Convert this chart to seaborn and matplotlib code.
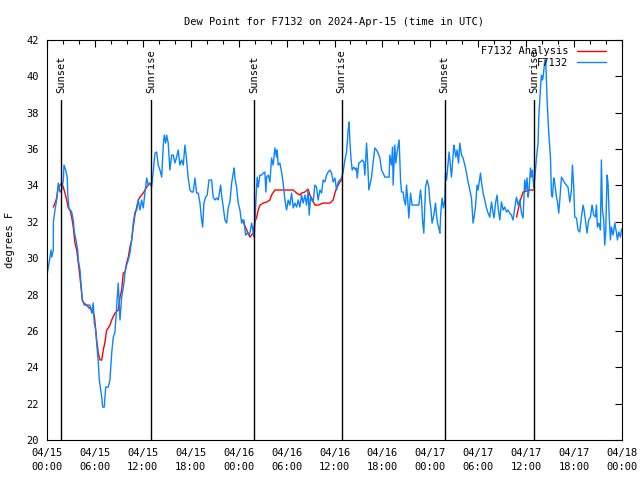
import numpy as np
import pandas as pd
import matplotlib
matplotlib.use("Agg")
import matplotlib.pyplot as plt
import matplotlib.dates as mdates
from matplotlib.lines import Line2D
import seaborn as sns

# datos (horas desde 2024-04-15 00:00 UTC, grados F)
blue_hours = [0.0, 0.38, 0.5, 0.59, 0.79, 0.8, 1.0, 1.21, 1.41, 1.63, 1.84, 2.04, 2.13, 2.34, 2.54, 2.59,
              2.75, 3.09, 3.29, 3.42, 3.63, 3.84, 3.92, 4.13, 4.26, 4.42, 4.67, 4.97, 5.38, 5.59, 5.79,
              5.92, 6.1, 6.22, 6.42, 6.55, 6.85, 6.97, 7.17, 7.35, 7.67, 7.88, 8.1, 8.3, 8.51, 8.72,
              8.92, 9.14, 9.35, 9.64, 9.76, 9.97, 10.18, 10.39, 10.6, 10.8, 11.01, 11.23, 11.43, 11.64,
              11.85, 12.05, 12.27, 12.48, 12.68, 12.89, 13.1, 13.3, 13.43, 13.52, 13.73, 13.93, 14.14,
              14.36, 14.56, 14.68, 14.86, 14.98, 15.18, 15.39, 15.61, 15.81, 16.02, 16.23, 16.43, 16.65,
              16.86, 17.06, 17.27, 17.48, 17.68, 17.9, 18.11, 18.31, 18.52, 18.74, 18.94, 19.15, 19.36,
              19.49, 19.65, 19.86, 20.06, 20.28, 20.61, 20.81, 21.03, 21.24, 21.44, 21.74, 21.86, 22.07,
              22.28, 22.49, 22.69, 22.9, 23.12, 23.32, 23.44, 23.53, 23.74, 23.94, 24.16, 24.37, 24.49,
              24.66, 24.87, 25.07, 25.28, 25.41, 25.62, 25.82, 25.95, 26.16, 26.32, 26.45, 26.66, 26.87,
              27.07, 27.28, 27.41, 27.5, 27.7, 27.91, 28.12, 28.32, 28.54, 28.75, 28.82, 28.95, 29.16,
              29.37, 29.57, 29.79, 30.0, 30.2, 30.41, 30.63, 30.83, 31.04, 31.25, 31.45, 31.66, 31.88,
              32.08, 32.29, 32.5, 32.7, 32.83, 33.0, 33.13, 33.33, 33.54, 33.75, 33.95, 34.17, 34.38,
              34.58, 34.79, 35.01, 35.21, 35.42, 35.63, 35.83, 36.05, 36.26, 36.46, 36.67, 36.88, 37.08,
              37.3, 37.51, 37.71, 37.83, 37.92, 38.05, 38.21, 38.42, 38.64, 38.76, 38.84, 39.05, 39.26,
              39.46, 39.67, 39.8, 39.92, 40.01, 40.14, 40.3, 40.43, 40.64, 40.84, 41.05, 41.26, 41.46,
              41.68, 41.89, 42.09, 42.3, 42.84, 42.93, 43.14, 43.27, 43.34, 43.55, 43.68, 43.84, 44.09,
              44.27, 44.39, 44.59, 44.72, 44.89, 45.02, 45.14, 45.31, 45.52, 45.72, 46.56, 46.77, 46.9,
              47.02, 47.18, 47.4, 47.6, 47.81, 47.93, 48.06, 48.22, 48.44, 48.65, 48.77, 48.9, 49.06,
              49.19, 49.31, 49.47, 49.65, 49.81, 49.9, 50.03, 50.23, 50.35, 50.53, 50.65, 50.78, 50.94,
              51.06, 51.19, 51.35, 51.53, 51.69, 51.9, 52.1, 52.32, 52.53, 52.73, 52.94, 53.15, 53.35,
              53.48, 53.65, 53.85, 53.98, 54.1, 54.28, 54.4, 54.61, 54.82, 55.03, 55.23, 55.44, 55.66,
              55.86, 55.98, 56.16, 56.36, 56.48, 56.7, 56.91, 57.11, 57.32, 57.53, 57.73, 57.94, 58.15,
              58.36, 58.57, 58.79, 58.99, 59.2, 59.41, 59.61, 59.82, 59.95, 60.11, 60.24, 60.36, 60.54,
              60.66, 60.79, 60.95, 61.08, 61.29, 61.49, 61.58, 61.7, 61.83, 61.91, 62.04, 62.12, 62.24,
              62.33, 62.45, 62.62, 62.83, 63.04, 63.17, 63.29, 63.45, 63.58, 63.79, 63.92, 64.08, 64.21,
              64.42, 64.62, 64.83, 65.04, 65.24, 65.46, 65.67, 65.79, 65.96, 66.08, 66.3, 66.5, 66.71,
              66.92, 67.12, 67.25, 67.42, 67.62, 67.83, 68.05, 68.25, 68.46, 68.67, 68.8, 68.92, 69.09,
              69.3, 69.42, 69.55, 69.71, 69.84, 69.96, 70.13, 70.25, 70.38, 70.55, 70.68, 70.88, 71.1,
              71.31, 71.43, 71.59, 71.8, 71.95]
blue_dewpt = [29.07, 30.06, 30.45, 30.06, 30.45, 31.99, 32.65, 33.2, 34.13, 33.64, 33.75, 34.3, 35.12, 34.85,
              34.41, 33.58, 32.76, 32.54, 32.1, 31.44, 31.0, 30.45, 29.9, 29.35, 28.63, 27.7, 27.42, 27.42,
              27.42, 26.98, 27.53, 26.43, 26.05, 25.33, 24.29, 23.3, 22.36, 21.81, 21.81, 22.91, 22.91,
              23.3, 24.78, 25.66, 25.94, 27.31, 28.63, 26.6, 27.86, 28.63, 29.18, 29.62, 29.9, 30.28, 31.0,
              31.93, 32.54, 32.65, 33.2, 32.65, 33.2, 32.76, 33.58, 34.41, 34.02, 34.13, 33.91, 34.74, 35.4,
              35.78, 35.84, 35.12, 34.85, 34.46, 36.22, 36.77, 36.33, 36.77, 36.33, 34.85, 35.67, 35.67,
              35.23, 35.56, 35.95, 35.12, 35.4, 35.12, 36.22, 35.4, 34.41, 33.75, 33.64, 33.64, 34.41,
              33.58, 33.58, 33.03, 32.1, 31.71, 33.03, 33.36, 33.47, 34.3, 34.3, 33.36, 33.2, 33.31, 33.2,
              34.02, 33.47, 32.81, 32.1, 31.93, 32.76, 33.09, 34.13, 34.68, 34.96, 34.41, 33.91, 33.03,
              32.65, 31.93, 32.1, 32.1, 31.27, 31.38, 31.27, 31.38, 31.93, 31.44, 31.16, 33.2, 34.46, 33.91,
              34.57, 34.57, 34.68, 34.74, 33.64, 34.46, 34.57, 34.19, 35.51, 35.12, 36.06, 35.56, 35.95,
              35.12, 35.23, 34.74, 34.13, 33.2, 32.65, 33.2, 32.92, 33.58, 32.76, 33.03, 32.81, 33.2, 32.81,
              33.47, 33.03, 33.47, 32.92, 33.75, 32.37, 33.36, 33.2, 33.09, 34.02, 33.91, 33.2, 33.75, 33.58,
              34.3, 34.19, 34.57, 34.74, 34.85, 34.68, 34.19, 34.41, 33.75, 34.19, 34.3, 34.41, 34.74, 35.4,
              35.84, 37.05, 37.49, 36.5, 35.56, 34.85, 35.01, 34.85, 34.96, 34.41, 35.23, 35.29, 35.4,
              35.29, 34.57, 35.51, 36.33, 35.4, 33.75, 34.02, 34.46, 35.29, 36.06, 35.95, 35.78, 35.51,
              34.85, 34.68, 34.46, 34.46, 35.67, 35.12, 36.11, 34.02, 36.22, 35.23, 35.84, 36.5, 34.3,
              33.64, 33.64, 33.2, 32.92, 34.02, 33.36, 32.21, 33.58, 32.92, 32.92, 33.75, 33.2, 32.1, 31.38,
              33.91, 34.3, 33.91, 33.2, 32.76, 31.93, 32.37, 33.03, 32.37, 31.93, 31.66, 31.38, 32.48,
              33.31, 32.76, 33.2, 34.68, 34.3, 35.23, 35.84, 35.01, 34.46, 35.23, 36.22, 35.95, 35.56,
              35.95, 35.23, 36.33, 35.67, 35.51, 35.12, 34.68, 34.19, 33.75, 33.31, 31.93, 32.26, 32.81,
              34.02, 33.75, 34.13, 34.68, 34.19, 33.58, 33.2, 32.76, 32.48, 32.26, 33.09, 32.48, 32.21,
              33.03, 33.47, 32.81, 32.1, 33.09, 32.65, 32.81, 32.54, 32.65, 32.48, 32.37, 32.1, 32.76,
              33.36, 32.92, 33.2, 32.48, 32.21, 34.3, 33.75, 34.41, 33.36, 33.75, 34.96, 34.46, 34.85,
              33.86, 34.41, 35.51, 36.33, 37.76, 38.7, 39.63, 40.07, 39.8, 39.96, 40.46, 40.9, 40.9, 38.7,
              36.88, 35.56, 33.47, 33.36, 34.41, 34.13, 33.36, 33.09, 32.48, 33.2, 34.46, 34.3, 34.13,
              34.02, 33.91, 33.09, 33.75, 35.12, 33.91, 32.26, 32.21, 31.55, 31.44, 32.26, 32.92, 32.65,
              32.1, 31.38, 32.1, 32.26, 32.92, 32.37, 32.26, 32.92, 31.71, 31.93, 31.55, 35.4, 32.65, 32.1,
              30.72, 31.44, 34.57, 34.13, 32.48, 31.0, 31.71, 31.27, 31.93, 31.38, 31.0, 31.44, 31.16, 31.6]

# analisis (tres tramos)
red_hours = [0.79, 1.0, 1.21, 1.41, 1.63, 1.84, 2.04, 2.25, 2.47, 2.67, 2.88, 3.09, 3.29, 3.5, 3.72, 3.92,
             4.13, 4.26, 4.42, 4.63, 4.97, 5.17, 5.59, 5.92, 6.1, 6.22, 6.42, 6.63, 6.85, 7.05, 7.26,
             7.47, 7.67, 7.88, 8.1, 8.51, 8.92, 9.14, 9.35, 9.55, 9.76, 9.97, 10.18, 10.39, 10.6, 10.8,
             11.01, 11.23, 11.43, 11.64, 11.85, 12.05, 12.27, 12.48, 12.68, 12.89,
             24.57, 25.0, 25.41, 25.62, 25.82, 26.03, 26.25, 26.45, 26.66, 27.07, 27.5, 27.91, 28.12,
             28.54, 29.57, 30.83, 31.25, 31.66, 31.88, 32.29, 32.7, 32.92, 33.13, 33.54, 33.95, 34.58,
             35.01, 35.42, 35.83, 36.05, 36.26, 36.46, 36.67, 36.88,
             58.79, 58.99, 59.2, 59.41, 59.61, 60.04, 60.45, 60.99]
red_dewpt = [32.81, 33.03, 33.31, 33.91, 34.02, 34.13, 33.91, 33.58, 33.2, 32.76, 32.65, 32.26, 31.71, 30.83,
             30.45, 29.73, 28.96, 28.41, 27.7, 27.53, 27.42, 27.31, 27.15, 26.87, 26.05, 25.5, 24.78, 24.4,
             24.4, 24.95, 25.39, 26.05, 26.16, 26.32, 26.6, 26.98, 27.15, 27.86, 28.25, 29.18, 29.24,
             29.73, 30.06, 30.61, 31.0, 31.71, 32.37, 32.81, 33.2, 33.36, 33.47, 33.58, 33.75, 33.91,
             34.02, 34.13,
             31.99, 31.55, 31.16, 31.27, 31.38, 31.99, 32.26, 32.65, 32.92, 33.03, 33.09, 33.2, 33.47,
             33.75, 33.75, 33.75, 33.58, 33.47, 33.58, 33.64, 33.8, 33.47, 33.31, 32.92, 32.92, 33.03,
             33.03, 33.03, 33.2, 33.58, 33.86, 34.02, 34.19, 34.3,
             32.26, 32.65, 33.09, 33.36, 33.64, 33.69, 33.75, 33.75]
red_seg = [1] * 56 + [2] * 34 + [3] * 8

# sunset / sunrise
event_hours = [1.81, 13.0, 25.9, 36.9, 49.8, 60.95]
event_labels = ["Sunset", "Sunrise", "Sunset", "Sunrise", "Sunset", "Sunrise"]

t0 = pd.Timestamp("2024-04-15 00:00")
df_blue = pd.DataFrame({"time": t0 + pd.to_timedelta(blue_hours, unit="h"), "dewpt": blue_dewpt})
df_red = pd.DataFrame({"time": t0 + pd.to_timedelta(red_hours, unit="h"), "dewpt": red_dewpt, "seg": red_seg})

red = "#ff0000"
blue = "#0a84ff"

sns.set_theme(style="white")
plt.rcParams["font.family"] = ["DejaVu Sans Mono"]
plt.rcParams["font.size"] = 7.5
plt.rcParams["text.color"] = "black"
plt.rcParams["axes.labelcolor"] = "black"
plt.rcParams["xtick.color"] = "black"
plt.rcParams["ytick.color"] = "black"

fig = plt.figure(figsize=(6.4, 4.8), dpi=100)
ax = fig.add_axes([47 / 640, 40 / 480, 575 / 640, 400 / 480])

sns.lineplot(data=df_red, x="time", y="dewpt", units="seg", estimator=None, color=red,
             linewidth=1.0, ax=ax, legend=False)
sns.lineplot(data=df_blue, x="time", y="dewpt", color=blue, linewidth=1.0, ax=ax, legend=False)

for h, lab in zip(event_hours, event_labels):
    t = t0 + pd.Timedelta(hours=h)
    ax.plot([t, t], [20, 38.7], color="black", linewidth=1.0)
    ax.text(t, 39.1, lab, rotation=90, ha="center", va="bottom", fontsize=7.5)

ax.set_xlim(t0, t0 + pd.Timedelta(hours=72))
ax.set_ylim(20, 42)
ax.set_yticks(np.arange(20, 43, 2))
ax.xaxis.set_major_locator(mdates.HourLocator(byhour=range(0, 24, 6)))
ax.xaxis.set_minor_locator(mdates.HourLocator(byhour=range(0, 24, 2)))
ax.xaxis.set_major_formatter(mdates.DateFormatter("%m/%d\n%H:%M"))
ax.tick_params(axis="both", which="both", direction="in", top=True, right=True, color="black",
               labelcolor="black", labelsize=7.5, pad=6)
ax.tick_params(axis="both", which="major", length=5, width=0.8)
ax.tick_params(axis="x", which="minor", length=3, width=0.8)
for lbl in ax.get_xticklabels():
    lbl.set_linespacing(1.5)
for s in ax.spines.values():
    s.set_color("black")
    s.set_linewidth(0.8)

ax.set_xlabel("")
ax.set_ylabel("degrees F", fontsize=7.5, labelpad=8, color="black")
ax.set_title("Dew Point for F7132 on 2024-Apr-15 (time in UTC)", fontsize=7.5, pad=11, color="black")

handles = [Line2D([], [], color=red, linewidth=1.0), Line2D([], [], color=blue, linewidth=1.0)]
leg = ax.legend(handles, ["F7132 Analysis", "F7132"], loc="upper right", frameon=False,
                markerfirst=False, bbox_to_anchor=(1 - 10 / 575, 1.0), handlelength=2.8,
                borderaxespad=0.2, labelspacing=0.15, handletextpad=0.8, fontsize=7.5)
for txt in leg.get_texts():
    txt.set_color("black")

fig.savefig("out.png", dpi=100)
